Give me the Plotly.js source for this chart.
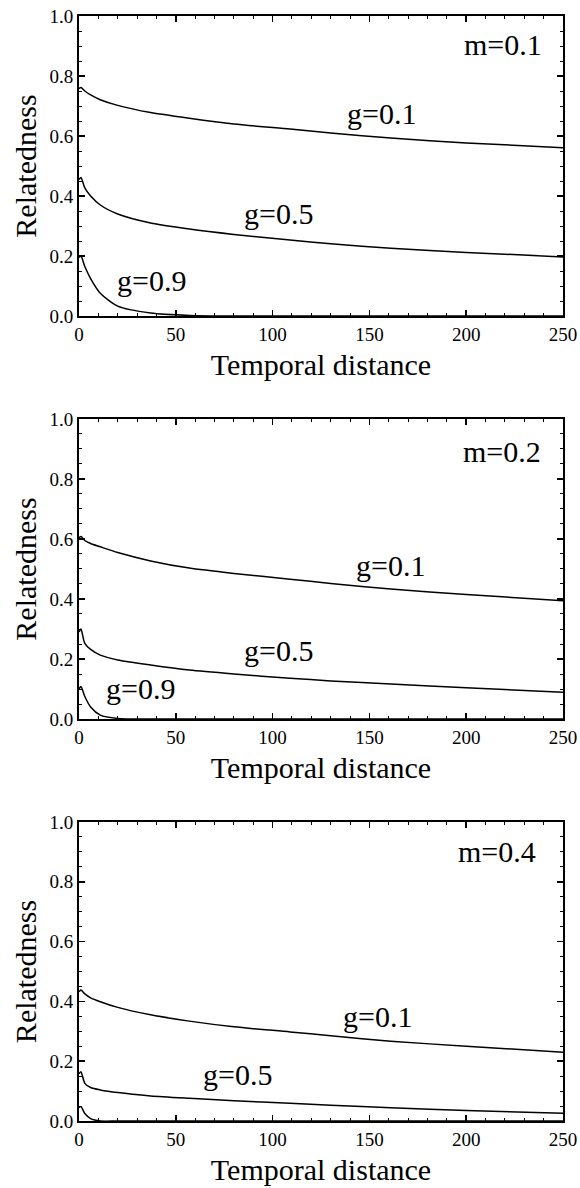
<!DOCTYPE html>
<html>
<head>
<meta charset="utf-8">
<script src="https://cdn.plot.ly/plotly-3.0.1.min.js"></script>
<style>html,body{margin:0;padding:0;background:#fff;}#chart{width:580px;height:1188px;}</style>
</head>
<body>
<div id="chart"></div>
<script>
// Temporal distance sample points
const distance = [0, 1, 3, 6, 11, 20, 37, 57, 80, 109, 130, 161, 200, 250];

// m = 0.1
const m01_g01 = [0.758, 0.762, 0.750, 0.737, 0.721, 0.702, 0.678, 0.659, 0.640, 0.623, 0.610, 0.593, 0.577, 0.561];
const m01_g05 = [0.455, 0.462, 0.427, 0.400, 0.370, 0.340, 0.310, 0.290, 0.272, 0.253, 0.241, 0.226, 0.212, 0.197];
const m01_g09 = [0.195, 0.200, 0.165, 0.125, 0.076, 0.033, 0.010, 0.002, 0.000, 0.000, 0.000, 0.000, 0.000, 0.000];

// m = 0.2
const m02_g01 = [0.604, 0.608, 0.595, 0.585, 0.574, 0.555, 0.527, 0.503, 0.485, 0.466, 0.452, 0.433, 0.415, 0.394];
const m02_g05 = [0.290, 0.300, 0.252, 0.232, 0.213, 0.197, 0.180, 0.163, 0.150, 0.136, 0.127, 0.117, 0.104, 0.089];
const m02_g09 = [0.100, 0.108, 0.075, 0.040, 0.013, 0.002, 0.000, 0.000, 0.000, 0.000, 0.000, 0.000, 0.000, 0.000];

// m = 0.4
const m04_g01 = [0.432, 0.438, 0.425, 0.412, 0.399, 0.380, 0.355, 0.334, 0.315, 0.298, 0.285, 0.267, 0.250, 0.230];
const m04_g05 = [0.158, 0.165, 0.126, 0.112, 0.104, 0.095, 0.084, 0.076, 0.068, 0.059, 0.053, 0.044, 0.035, 0.026];
const m04_g09 = [0.045, 0.048, 0.025, 0.008, 0.000, 0.000, 0.000, 0.000, 0.000, 0.000, 0.000, 0.000, 0.000, 0.000];

const panelLabels = ["m=0.1", "m=0.2", "m=0.4"];
const curveLabels = ["g=0.1", "g=0.5", "g=0.9"];
const xTickVals = [0, 50, 100, 150, 200, 250];
const yTickVals = [0.0, 0.2, 0.4, 0.6, 0.8, 1.0];
const xTitle = "Temporal distance";
const yTitle = "Relatedness";

const panels = [
  {ax: "", series: [m01_g01, m01_g05, m01_g09], m: panelLabels[0], domain: [0.7285, 1.0],
   labels: [[156.5, 0.675, 0], [102.8, 0.343, 1], [37.7, 0.117, 2]], mpos: [219, 0.905]},
  {ax: "2", series: [m02_g01, m02_g05, m02_g09], m: panelLabels[1], domain: [0.3638, 0.6353],
   labels: [[161, 0.51, 0], [102.8, 0.23, 1], [32, 0.103, 2]], mpos: [218.7, 0.893]},
  {ax: "3", series: [m04_g01, m04_g05, m04_g09], m: panelLabels[2], domain: [0.0, 0.2706],
   labels: [[154, 0.351, 0], [82, 0.154, 1]], mpos: [216, 0.9]}
];

const FONT = "'Liberation Serif', 'Times New Roman', serif";
const traces = [];
const annotations = [];
const layout = {
  width: 580, height: 1188,
  margin: {l: 79, r: 17, t: 16, b: 67},
  paper_bgcolor: "#fff", plot_bgcolor: "#fff",
  showlegend: false,
  font: {family: FONT, color: "#000", size: 19},
  annotations: annotations
};

panels.forEach(p => {
  p.series.forEach((ys, i) => {
    traces.push({
      type: "scatter", mode: "lines", x: distance, y: ys,
      name: p.m + " " + curveLabels[i],
      line: {color: "#000", width: 1.5, shape: "spline", smoothing: 0.7},
      xaxis: "x" + p.ax, yaxis: "y" + p.ax, hoverinfo: "skip"
    });
  });
  const common = {
    showline: true, linecolor: "#000", linewidth: 2, mirror: "ticks",
    ticks: "inside", ticklen: 6, tickwidth: 1.5, tickcolor: "#000",
    showgrid: false, zeroline: false,
    tickfont: {family: FONT, size: 19, color: "#000"}
  };
  layout["xaxis" + p.ax] = Object.assign({}, common, {
    anchor: "y" + p.ax, domain: [0, 1], range: [0, 250],
    tickvals: xTickVals,
    minor: {ticks: "inside", ticklen: 3, tickwidth: 1, dtick: 10, tickcolor: "#000", showgrid: false},
    title: {text: xTitle, font: {family: FONT, size: 30, color: "#000"}, standoff: 10}
  });
  layout["yaxis" + p.ax] = Object.assign({}, common, {
    anchor: "x" + p.ax, domain: p.domain, range: [0, 1],
    tickvals: yTickVals, tickformat: ".1f",
    minor: {ticks: "inside", ticklen: 3, tickwidth: 1, dtick: 0.05, tickcolor: "#000", showgrid: false},
    title: {text: yTitle, font: {family: FONT, size: 30, color: "#000"}, standoff: 4}
  });
  p.labels.forEach(l => {
    annotations.push({
      xref: "x" + p.ax, yref: "y" + p.ax, x: l[0], y: l[1],
      text: curveLabels[l[2]], showarrow: false,
      font: {family: FONT, size: 30, color: "#000"}, xanchor: "center", yanchor: "middle"
    });
  });
  annotations.push({
    xref: "x" + p.ax, yref: "y" + p.ax, x: p.mpos[0], y: p.mpos[1],
    text: p.m, showarrow: false,
    font: {family: FONT, size: 30, color: "#000"}, xanchor: "center", yanchor: "middle"
  });
});

Plotly.newPlot("chart", traces, layout, {staticPlot: true, displayModeBar: false});
</script>
</body>
</html>
